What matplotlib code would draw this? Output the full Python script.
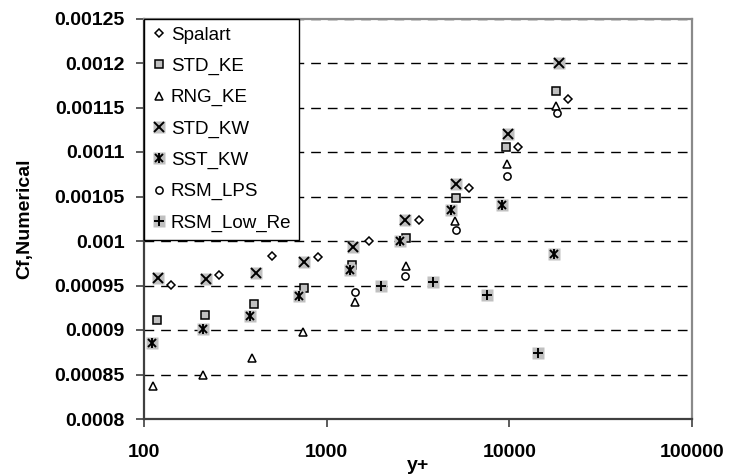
import matplotlib
matplotlib.use("Agg")
import matplotlib.pyplot as plt
from matplotlib.legend_handler import HandlerTuple

plt.rcParams['font.family'] = ['Liberation Sans', 'DejaVu Sans']

# ---- data ----
spalart_x = [140, 258, 501, 894, 1702, 3200, 6009, 11120, 21080]
spalart_y = [0.000951, 0.000962, 0.000983, 0.000982, 0.001000, 0.001024, 0.001060, 0.001106, 0.001160]

std_ke_x = [118, 216, 400, 747, 1379, 2706, 5095, 9590, 18070]
std_ke_y = [0.000911, 0.000917, 0.000929, 0.000947, 0.000973, 0.001003, 0.001048, 0.001106, 0.001168]

rng_ke_x = [111, 209, 387, 738, 1420, 2706, 5050, 9690, 18130]
rng_ke_y = [0.000837, 0.000849, 0.000869, 0.000898, 0.000931, 0.000972, 0.001023, 0.001086, 0.001152]

std_kw_x = [119, 218, 411, 754, 1390, 2697, 5128, 9880, 18830]
std_kw_y = [0.000958, 0.000957, 0.000964, 0.000976, 0.000993, 0.001024, 0.001064, 0.001120, 0.001200]

sst_kw_x = [110, 210, 381, 708, 1349, 2508, 4823, 9180, 17670]
sst_kw_y = [0.000885, 0.000901, 0.000916, 0.000938, 0.000967, 0.001000, 0.001035, 0.001041, 0.000985]

rsm_lps_x = [1426, 2683, 5095, 9710, 18290]
rsm_lps_y = [0.000943, 0.000961, 0.001012, 0.001073, 0.001144]

rsm_low_x = [1990, 3822, 7540, 14320]
rsm_low_y = [0.000950, 0.000954, 0.000939, 0.000874]

series_names = ['Spalart', 'STD_KE', 'RNG_KE', 'STD_KW', 'SST_KW', 'RSM_LPS', 'RSM_Low_Re']

y_ticks = [0.0008, 0.00085, 0.0009, 0.00095, 0.001, 0.00105, 0.0011, 0.00115, 0.0012, 0.00125]
y_tick_labels = ['0.0008', '0.00085', '0.0009', '0.00095', '0.001', '0.00105',
                 '0.0011', '0.00115', '0.0012', '0.00125']
x_ticks = [100, 1000, 10000, 100000]
x_tick_labels = ['100', '1000', '10000', '100000']

# ---- figure ----
W, H = 729, 476
fig = plt.figure(figsize=(W / 100, H / 100), dpi=100)
left, right, top, bottom = 144.3, 691.7, 18.5, 419
ax = fig.add_axes([left / W, 1 - bottom / H, (right - left) / W, (bottom - top) / H])

GRAY_BG = '#c0c0c0'
BG_MS = 9.0
kw = dict(ls='none')


def bg(x, y):
    return ax.plot(x, y, marker='s', ms=BG_MS, mfc=GRAY_BG, mec='none', **kw)[0]


h_spalart = ax.plot(spalart_x, spalart_y, marker='D', ms=4.2, mfc='white', mec='black', mew=1.1, **kw)[0]
h_std_ke = ax.plot(std_ke_x, std_ke_y, marker='s', ms=5.4, mfc=GRAY_BG, mec='black', mew=1.1, **kw)[0]
h_rng_ke = ax.plot(rng_ke_x, rng_ke_y, marker='^', ms=6.0, mfc='white', mec='black', mew=1.1, **kw)[0]

b_std_kw = bg(std_kw_x, std_kw_y)
f_std_kw = ax.plot(std_kw_x, std_kw_y, marker='x', ms=6.8, mec='black', mew=1.4, **kw)[0]

b_sst_kw = bg(sst_kw_x, sst_kw_y)
f_sst_kw1 = ax.plot(sst_kw_x, sst_kw_y, marker='x', ms=6.2, mec='black', mew=1.4, **kw)[0]
f_sst_kw2 = ax.plot(sst_kw_x, sst_kw_y, marker='|', ms=7.2, mec='black', mew=1.4, **kw)[0]

h_rsm_lps = ax.plot(rsm_lps_x, rsm_lps_y, marker='o', ms=5.2, mfc='white', mec='black', mew=1.1, **kw)[0]

b_rsm_low = bg(rsm_low_x, rsm_low_y)
f_rsm_low = ax.plot(rsm_low_x, rsm_low_y, marker='+', ms=7.2, mec='black', mew=1.4, **kw)[0]

ax.set_xscale('log')
ax.set_xlim(100, 100000)
ax.set_ylim(0.0008, 0.00125)
ax.set_xticks(x_ticks)
ax.set_xticklabels(x_tick_labels)
ax.xaxis.set_minor_locator(matplotlib.ticker.NullLocator())
ax.set_yticks(y_ticks)
ax.set_yticklabels(y_tick_labels)

for lab in ax.get_xticklabels() + ax.get_yticklabels():
    lab.set_fontweight('bold')
    lab.set_fontsize(14)

ax.tick_params(axis='y', direction='out', length=6, width=1.2, color='#404040', pad=8)
ax.tick_params(axis='x', direction='out', length=6, width=1.2, color='#404040', pad=12)

ax.set_axisbelow(True)
ax.yaxis.grid(True, linestyle=(0, (7, 5)), color='black', linewidth=1.0)
ax.xaxis.grid(False)

for s in ['left', 'bottom']:
    ax.spines[s].set_color('#404040')
    ax.spines[s].set_linewidth(1.6)
for s in ['top', 'right']:
    ax.spines[s].set_color('#8a8a8a')
    ax.spines[s].set_linewidth(1.6)

fig.text(25 / W, 1 - 218.5 / H, 'Cf,Numerical', rotation=90, ha='center', va='center',
         fontsize=14, fontweight='bold')
fig.text(418 / W, 1 - 466 / H, 'y+', ha='center', va='center', fontsize=14, fontweight='bold')

handles = [h_spalart, h_std_ke, h_rng_ke, (b_std_kw, f_std_kw), (b_sst_kw, f_sst_kw1, f_sst_kw2),
           h_rsm_lps, (b_rsm_low, f_rsm_low)]
leg = ax.legend(handles, series_names, loc='upper left', bbox_to_anchor=(0, 1), borderaxespad=0,
                fontsize=13.5, frameon=True, fancybox=False, edgecolor='black', framealpha=1,
                handlelength=0.7, handletextpad=0.3, labelspacing=0.75, borderpad=0.42,
                handler_map={tuple: HandlerTuple(ndivide=1)})
leg.get_frame().set_linewidth(1.0)

fig.savefig('out.png', dpi=100)
